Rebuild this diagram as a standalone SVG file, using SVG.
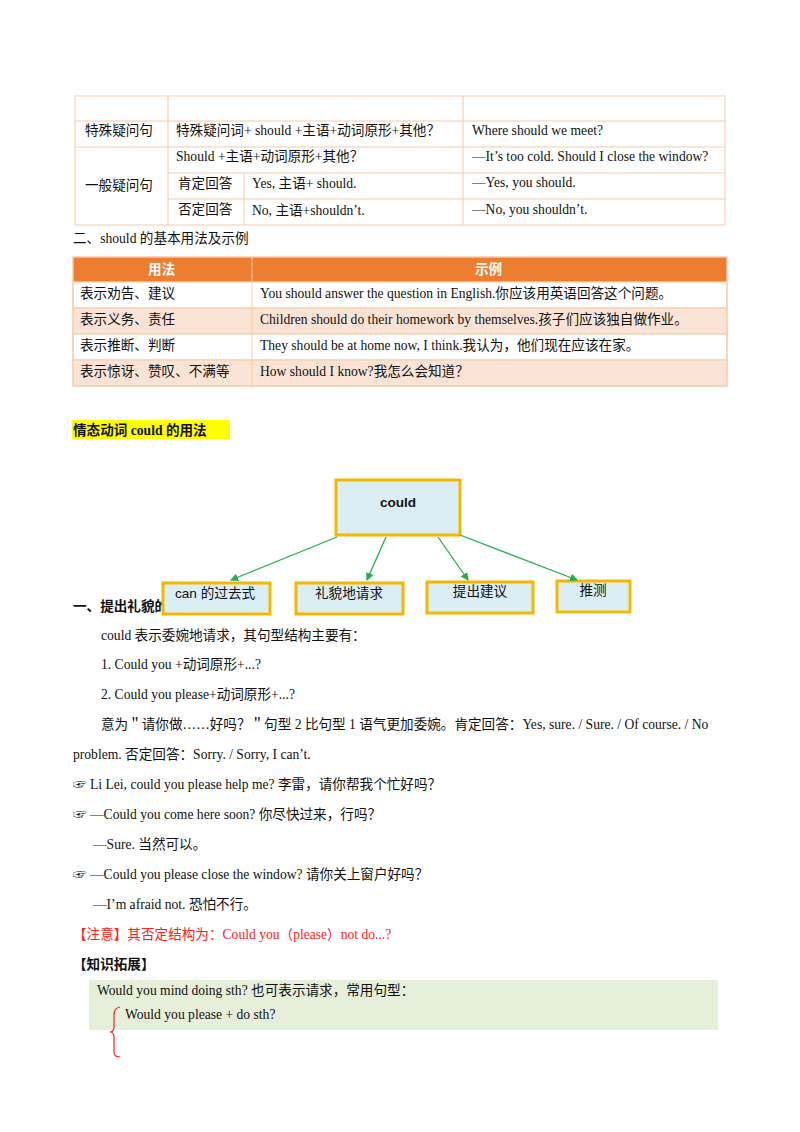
<svg xmlns="http://www.w3.org/2000/svg" width="800" height="1132" viewBox="0 0 800 1132">
<defs>
<marker id="ah" markerWidth="8" markerHeight="8" refX="7" refY="4" orient="auto" markerUnits="userSpaceOnUse"><path d="M0,0 L8,4 L0,8 z" fill="#22b14c"/></marker>
<style>
text{font-family:"Liberation Serif","Noto Sans CJK SC",serif;font-size:13.6px;fill:#111}
.t line,.t rect{stroke:#f6c9a6;stroke-width:1}
.s{font-family:"Liberation Sans","Noto Sans CJK SC",sans-serif}
.b{stroke:#f5b800;stroke-width:3;fill:#dbeef3}
.c line{stroke:#22b14c;stroke-width:1.3;marker-end:url(#ah)}
.r{fill:#ff2020}
</style>
</defs>
<rect width="800" height="1132" fill="#fff"/>
<g class="t" fill="none">
<rect x="75" y="96" width="650" height="129"/>
<line x1="75" y1="121" x2="725" y2="121"/><line x1="75" y1="147" x2="725" y2="147"/>
<line x1="168" y1="173" x2="725" y2="173"/><line x1="168" y1="199" x2="725" y2="199"/>
<line x1="168" y1="96" x2="168" y2="225"/><line x1="463" y1="96" x2="463" y2="225"/><line x1="244" y1="173" x2="244" y2="225"/>
</g>
<text x="85" y="135">特殊疑问句</text><text x="176" y="135">特殊疑问词+ should +主语+动词原形+其他？</text><text x="472" y="135">Where should we meet?</text>
<text x="85" y="190">一般疑问句</text><text x="176" y="161">Should +主语+动词原形+其他？</text><text x="472" y="161">—It’s too cold. Should I close the window?</text>
<text x="178" y="188">肯定回答</text><text x="252" y="188">Yes,  主语+ should.</text><text x="472" y="187">—Yes, you should.</text>
<text x="178" y="214">否定回答</text><text x="252" y="215">No,  主语+shouldn’t.</text><text x="472" y="214">—No, you shouldn’t.</text>
<text x="73" y="243">二、should 的基本用法及示例</text>
<g class="t">
<rect x="73" y="257" width="654" height="25" fill="#ed7d31" stroke="#ed7d31"/>
<rect x="73" y="282" width="654" height="26" fill="#fff"/>
<rect x="73" y="308" width="654" height="26" fill="#fbe4d5"/>
<rect x="73" y="334" width="654" height="26" fill="#fff"/>
<rect x="73" y="360" width="654" height="26" fill="#fbe4d5"/>
<line x1="252" y1="257" x2="252" y2="386"/>
<rect x="73" y="257" width="654" height="129" fill="none" stroke="#f4b183"/>
</g>
<text x="148" y="274" font-weight="bold" style="fill:#fff">用法</text><text x="475" y="274" font-weight="bold" style="fill:#fff">示例</text>
<text x="80" y="298">表示劝告、建议</text><text x="260" y="298">You should answer the question in English.你应该用英语回答这个问题。</text>
<text x="80" y="324">表示义务、责任</text><text x="260" y="324">Children should do their homework by themselves.孩子们应该独自做作业。</text>
<text x="80" y="350">表示推断、判断</text><text x="260" y="350">They should be at home now, I think.我认为，他们现在应该在家。</text>
<text x="80" y="376">表示惊讶、赞叹、不满等</text><text x="260" y="376">How should I know?我怎么会知道？</text>
<rect x="72" y="420" width="158" height="19" fill="#ffff00"/>
<text x="73" y="435" font-weight="bold" font-size="15">情态动词 could 的用法</text>
<text x="73" y="611" font-weight="bold" font-size="14">一、提出礼貌的</text>
<g id="n0"><rect class="b" x="336" y="480" width="124" height="55"/><text class="s" x="398" y="507" text-anchor="middle" font-size="18" font-weight="bold">could</text></g>
<g id="n1"><rect class="b" x="163" y="583" width="107" height="31"/><text class="s" x="175" y="598">can  的过去式</text></g>
<g id="n2"><rect class="b" x="296" y="583" width="107" height="31"/><text class="s" x="349" y="598" text-anchor="middle">礼貌地请求</text></g>
<g id="n3"><rect class="b" x="427" y="582" width="106" height="31"/><text class="s" x="480" y="596" text-anchor="middle">提出建议</text></g>
<g id="n4"><rect class="b" x="557" y="581" width="73" height="31"/><text class="s" x="593" y="595" text-anchor="middle">推测</text></g>
<g class="c">
<line x1="337" y1="537" x2="231" y2="580"/><line x1="386" y1="537" x2="367" y2="580"/>
<line x1="438" y1="537" x2="468" y2="580"/><line x1="460" y1="535" x2="577" y2="580"/>
</g>
<text x="101" y="640">could 表示委婉地请求，其句型结构主要有：</text>
<text x="101" y="669">1. Could you +动词原形+...?</text>
<text x="101" y="699">2. Could you please+动词原形+...?</text>
<text x="101" y="729">意为＂请你做……好吗？＂句型 2 比句型 1 语气更加委婉。肯定回答：Yes, sure. / Sure. / Of course. / No</text>
<text x="73" y="759">problem.  否定回答：Sorry. / Sorry, I can’t.</text>
<text x="73" y="789">☞ Li Lei, could you please help me?  李雷，请你帮我个忙好吗？</text>
<text x="73" y="819">☞ —Could you come here soon?  你尽快过来，行吗？</text>
<text x="93" y="849">—Sure.  当然可以。</text>
<text x="73" y="879">☞ —Could you please close the window?  请你关上窗户好吗？</text>
<text x="93" y="909">—I’m afraid not.  恐怕不行。</text>
<text x="73" y="939" class="r">【注意】其否定结构为：Could you（please）not do...?</text>
<text x="73" y="969" font-weight="bold">【知识拓展】</text>
<rect x="89" y="980" width="629" height="50" fill="#e6efd9"/>
<text x="97" y="995">Would you mind doing sth?  也可表示请求，常用句型：</text>
<text x="125" y="1019">Would you please + do sth?</text>
<path d="M120,1007 Q114,1008 114,1015 L114,1027 Q114,1032 110,1032 Q114,1032 114,1037 L114,1052 Q114,1057 120,1057" fill="none" stroke="#ff2020" stroke-width="1.2"/>
</svg>
